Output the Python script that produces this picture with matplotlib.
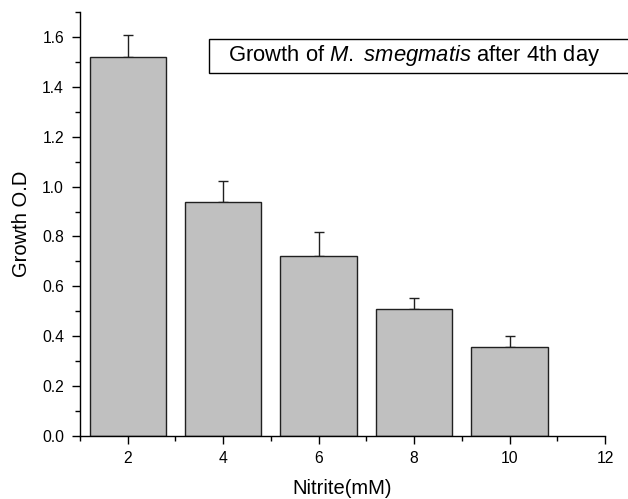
import matplotlib
matplotlib.use("Agg")
import matplotlib.pyplot as plt
from matplotlib.patches import Rectangle
from matplotlib.ticker import MultipleLocator, FormatStrFormatter

plt.rcParams['font.family'] = ['Liberation Sans', 'DejaVu Sans']
plt.rcParams['mathtext.fontset'] = 'custom'
plt.rcParams['mathtext.rm'] = 'Liberation Sans'
plt.rcParams['mathtext.it'] = 'Liberation Sans:italic'

nitrite = [2, 4, 6, 8, 10]
growth = [1.52, 0.939, 0.72, 0.51, 0.358]
growth_err = [0.086, 0.085, 0.096, 0.044, 0.043]

fig = plt.figure(figsize=(6.28, 4.99), dpi=100)
ax = fig.add_axes([0.1274, 0.1263, 0.836, 0.8497])

ax.bar(nitrite, growth, width=1.6, color='#c0c0c0', edgecolor='#202020',
       linewidth=1.0, zorder=2)
ax.errorbar(nitrite, growth, yerr=[[0] * len(growth_err), growth_err],
            fmt='none', ecolor='#202020', elinewidth=1.0, capsize=3.5,
            capthick=1.0, zorder=1)

ax.set_xlim(1, 12)
ax.set_ylim(0, 1.70)
ax.xaxis.set_major_locator(MultipleLocator(2))
ax.xaxis.set_minor_locator(MultipleLocator(1))
ax.yaxis.set_major_locator(MultipleLocator(0.2))
ax.yaxis.set_minor_locator(MultipleLocator(0.1))
ax.yaxis.set_major_formatter(FormatStrFormatter('%.1f'))

for side in ['top', 'right']:
    ax.spines[side].set_visible(False)
for side in ['left', 'bottom']:
    ax.spines[side].set_linewidth(1.0)

ax.tick_params(which='major', direction='out', length=6, width=1.0, labelsize=11.3)
ax.tick_params(which='minor', direction='out', length=3.5, width=1.0)
ax.tick_params(axis='x', which='major', pad=4.5)
ax.tick_params(axis='y', which='major', pad=5.5)

ax.set_xlabel('Nitrite(mM)', fontsize=14.5, labelpad=9.5)
ax.set_ylabel('Growth O.D', fontsize=14.5, labelpad=8)

# title box runs off the right edge of the figure
W, H = 628, 499
fig.patches.append(Rectangle((209 / W, 1 - 73 / H), 440 / W, 34 / H,
                             transform=fig.transFigure, facecolor='white',
                             edgecolor='black', linewidth=1.0))
fig.text(228 / W, 1 - 56 / H,
         r'Growth of $\mathit{M.}$ $\mathit{smegmatis}$ after 4th day',
         fontsize=15.8, va='center', ha='left')

fig.savefig('out.png', dpi=100)
